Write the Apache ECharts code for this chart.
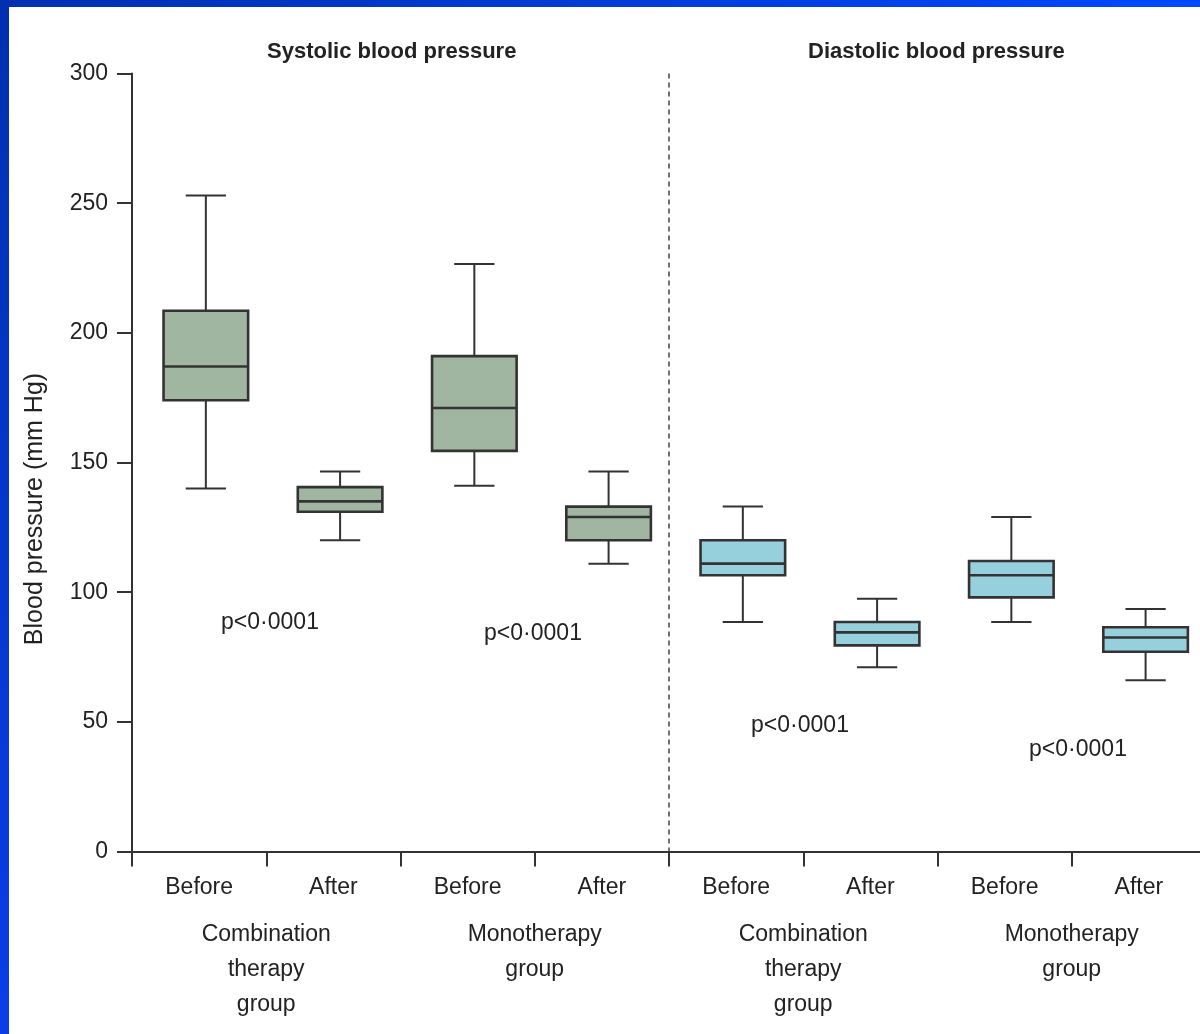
<!DOCTYPE html>
<html>
<head>
<meta charset="utf-8">
<script src="https://cdn.jsdelivr.net/npm/echarts@6/dist/echarts.min.js"></script>
<style>
html,body{margin:0;padding:0;background:#fff;}
#chart{width:1200px;height:1034px;}
</style>
</head>
<body>
<div id="chart"></div>
<script>
// ---- data ----
const categories = ['Before', 'After', 'Before', 'After', 'Before', 'After', 'Before', 'After'];
const groups = ['Combination\ntherapy\ngroup', 'Monotherapy\ngroup', 'Combination\ntherapy\ngroup', 'Monotherapy\ngroup'];
const panelTitles = ['Systolic blood pressure', 'Diastolic blood pressure'];
// [min, Q1, median, Q3, max]
const systolicStats = [
  [140, 174, 187, 208.5, 253],
  [120, 131, 135, 140.5, 146.5],
  [141, 154.5, 171, 191, 226.5],
  [111, 120, 129, 133, 146.5]
];
const diastolicStats = [
  [88.5, 106.5, 111, 120, 133],
  [71, 79.5, 84.5, 88.5, 97.5],
  [88.5, 98, 106.5, 112, 129],
  [66, 77, 82.5, 86.5, 93.5]
];
const pValues = ['p<0·0001', 'p<0·0001', 'p<0·0001', 'p<0·0001'];
const yMin = 0, yMax = 300, yStep = 50;
const yName = 'Blood pressure (mm Hg)';

// ---- style ----
const INK = '#333333';
const GREEN = '#a0b6a0';
const BLUE = '#97d0dd';
const FONT = "'Liberation Sans', Arial, sans-serif";

const chart = echarts.init(document.getElementById('chart'), null, {renderer: 'canvas'});

function boxRender(fill) {
  return function (params, api) {
    const i = api.value(0);
    const band = api.size([1, 0])[0];
    const cx = api.coord([i, 0])[0] + band * 0.05;
    const y = k => api.coord([i, api.value(k)])[1];
    const bw = band * 0.315, cw = band * 0.15;
    const lineStyle = {stroke: INK, lineWidth: 2};
    const heavy = {stroke: INK, lineWidth: 2.6};
    return {
      type: 'group',
      children: [
        {type: 'line', shape: {x1: cx, y1: y(5), x2: cx, y2: y(4)}, style: lineStyle},
        {type: 'line', shape: {x1: cx, y1: y(1), x2: cx, y2: y(2)}, style: lineStyle},
        {type: 'line', shape: {x1: cx - cw, y1: y(5), x2: cx + cw, y2: y(5)}, style: lineStyle},
        {type: 'line', shape: {x1: cx - cw, y1: y(1), x2: cx + cw, y2: y(1)}, style: lineStyle},
        {type: 'rect', shape: {x: cx - bw, y: y(4), width: 2 * bw, height: y(2) - y(4)},
          style: {fill: fill, stroke: INK, lineWidth: 2.6}},
        {type: 'line', shape: {x1: cx - bw, y1: y(3), x2: cx + bw, y2: y(3)}, style: heavy}
      ]
    };
  };
}

const gridLeft = 132, gridTop = 73.5, gridBottom = 182.5, gridRight = -6;
const gridWidth = 1200 - gridLeft - gridRight;

const option = {
  backgroundColor: '#ffffff',
  animation: false,
  grid: {left: gridLeft, top: gridTop, bottom: gridBottom, right: gridRight, containLabel: false, outerBoundsMode: 'none'},
  xAxis: [
    {
      type: 'category', data: categories, boundaryGap: true,
      axisLine: {show: true, lineStyle: {color: INK, width: 2}},
      axisTick: {show: true, alignWithLabel: false, interval: 0, length: 15, lineStyle: {color: INK, width: 2}},
      axisLabel: {color: '#222', fontSize: 23, fontFamily: FONT, margin: 25, interval: 0}
    },
    {
      type: 'category', data: groups, position: 'bottom', boundaryGap: true,
      axisLine: {show: false}, axisTick: {show: false},
      axisLabel: {color: '#222', fontSize: 23, fontFamily: FONT, margin: 66, lineHeight: 35, interval: 0, align: 'center'}
    }
  ],
  yAxis: {
    type: 'value', min: yMin, max: yMax, interval: yStep,
    splitLine: {show: false},
    axisLine: {show: true, lineStyle: {color: INK, width: 2}},
    axisTick: {show: true, length: 15, lineStyle: {color: INK, width: 2}},
    axisLabel: {color: '#222', fontSize: 23, fontFamily: FONT, margin: 24}
  },
  series: [
    {
      name: panelTitles[0], type: 'custom', xAxisIndex: 0,
      renderItem: boxRender(GREEN),
      encode: {x: 0, y: [1, 2, 3, 4, 5]},
      data: systolicStats.map((s, i) => [i].concat(s))
    },
    {
      name: panelTitles[1], type: 'custom', xAxisIndex: 0,
      renderItem: boxRender(BLUE),
      encode: {x: 0, y: [1, 2, 3, 4, 5]},
      data: diastolicStats.map((s, i) => [i + 4].concat(s))
    }
  ],
  graphic: [
    {type: 'rect', z: 100, shape: {x: 0, y: 0, width: 1200, height: 7},
      style: {fill: new echarts.graphic.LinearGradient(0, 0, 1, 0, [{offset: 0, color: '#0030b0'}, {offset: 1, color: '#0048ff'}])}},
    {type: 'rect', z: 100, shape: {x: 0, y: 0, width: 9, height: 1034},
      style: {fill: new echarts.graphic.LinearGradient(0, 0, 0, 1, [{offset: 0, color: '#0030b0'}, {offset: 1, color: '#0a3ee8'}])}},
    {type: 'line', z: 1, shape: {x1: gridLeft + gridWidth / 2, y1: gridTop, x2: gridLeft + gridWidth / 2, y2: 851},
      style: {stroke: '#444', lineWidth: 1.5, lineDash: [5, 4]}},
    {type: 'text', x: 35, y: 509, rotation: Math.PI / 2,
      style: {text: yName, fill: '#222', font: "25px 'Liberation Sans', Arial, sans-serif", align: 'center', verticalAlign: 'middle'}},
    {type: 'text', left: 392 - 125, top: 41, style: {text: panelTitles[0], fill: '#222', font: "bold 22px 'Liberation Sans', Arial, sans-serif"}},
    {type: 'text', left: 938 - 130, top: 41, style: {text: panelTitles[1], fill: '#222', font: "bold 22px 'Liberation Sans', Arial, sans-serif"}},
    {type: 'text', x: 270, y: 623, style: {text: pValues[0], fill: '#222', font: "23px 'Liberation Sans', Arial, sans-serif", align: 'center', verticalAlign: 'middle'}},
    {type: 'text', x: 533, y: 634, style: {text: pValues[1], fill: '#222', font: "23px 'Liberation Sans', Arial, sans-serif", align: 'center', verticalAlign: 'middle'}},
    {type: 'text', x: 800, y: 726, style: {text: pValues[2], fill: '#222', font: "23px 'Liberation Sans', Arial, sans-serif", align: 'center', verticalAlign: 'middle'}},
    {type: 'text', x: 1078, y: 750, style: {text: pValues[3], fill: '#222', font: "23px 'Liberation Sans', Arial, sans-serif", align: 'center', verticalAlign: 'middle'}}
  ]
};
chart.setOption(option);
</script>
</body>
</html>
